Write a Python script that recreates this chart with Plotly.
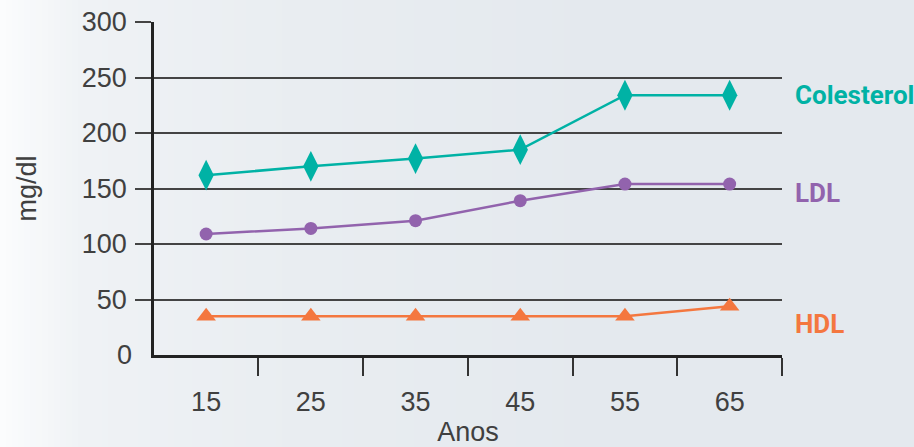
import plotly.graph_objects as go

idades = [15, 25, 35, 45, 55, 65]
colesterol = [162, 170, 177, 185, 234, 234]
ldl = [109, 114, 121, 139, 154, 154]
hdl = [35, 35, 35, 35, 35, 44]

TEAL = "#00b2a5"
PURPLE = "#9263ad"
ORANGE = "#f4773f"

W, H = 914, 447
L, R, T, B = 154, 132, 22, 92
PW = W - L - R


def lerp(c1, c2, t):
    a = [int(c1[i:i + 2], 16) for i in (1, 3, 5)]
    b = [int(c2[i:i + 2], 16) for i in (1, 3, 5)]
    return "rgb(%d,%d,%d)" % tuple(round(a[k] + (b[k] - a[k]) * t) for k in range(3))


fig = go.Figure()

series = [
    ("Colesterol", colesterol, TEAL, "diamond-tall", 22),
    ("LDL", ldl, PURPLE, "circle", 13),
    ("HDL", hdl, ORANGE, "triangle-up", 17),
]
for name, vals, col, sym, size in series:
    fig.add_trace(go.Scatter(
        x=idades, y=vals, name=name, mode="lines+markers",
        line=dict(color=col, width=2.5),
        marker=dict(color=col, symbol=sym, size=size, line=dict(width=0)),
        cliponaxis=False, showlegend=False,
    ))

# background gradient (left side lighter)
shapes = []
stops = [(0, "#fbfcfd"), (80, "#eff2f5"), (300, "#e9edf1"), (600, "#e4e9ee")]
step = 6
for px in range(0, 600, step):
    for (p0, c0), (p1, c1) in zip(stops, stops[1:]):
        if p0 <= px < p1:
            col = lerp(c0, c1, (px - p0) / (p1 - p0))
    shapes.append(dict(
        type="rect", xref="paper", yref="paper", layer="below",
        x0=(px - L) / PW, x1=(px + step + 1 - L) / PW,
        y0=-B / (H - T - B), y1=1 + T / (H - T - B),
        fillcolor=col, line=dict(width=0),
    ))

tick_font = dict(family="Liberation Sans, Arial, sans-serif", size=27, color="#404040")
label_font = "Roboto, Liberation Sans, sans-serif"

annotations = [
    dict(text="0", x=0, xref="paper", y=0, yref="y", xanchor="right",
         xshift=-20, showarrow=False, font=tick_font),
]
for name, ypos, col in [("Colesterol", 234, TEAL), ("LDL", 146, PURPLE), ("HDL", 28, ORANGE)]:
    annotations.append(dict(
        text="<b>%s</b>" % name, x=1, xref="paper", y=ypos, yref="y",
        xanchor="left", xshift=11, showarrow=False,
        font=dict(family=label_font, size=26, color=col),
    ))

fig.update_layout(
    width=W, height=H,
    margin=dict(l=L, r=R, t=T, b=B),
    paper_bgcolor="#e4e9ee",
    plot_bgcolor="rgba(0,0,0,0)",
    shapes=shapes,
    annotations=annotations,
    xaxis=dict(
        range=[10.02, 70], tickvals=idades, ticktext=[str(v) for v in idades],
        ticks="", showgrid=False, zeroline=False, automargin=False,
        showline=True, linecolor="#222222", linewidth=2.5,
        tickfont=tick_font, ticklabelstandoff=21,
        minor=dict(ticks="outside", tickmode="linear", tick0=20, dtick=10,
                   ticklen=18, tickcolor="#333333", tickwidth=1.5, showgrid=False),
        title=dict(text="Anos", font=tick_font, standoff=10),
    ),
    yaxis=dict(
        range=[0, 300], tickvals=[50, 100, 150, 200, 250, 300],
        ticks="outside", ticklen=16, tickcolor="#444444", tickwidth=1.5,
        showgrid=True, gridcolor="#444444", gridwidth=1.5, zeroline=False,
        automargin=False,
        showline=True, linecolor="#222222", linewidth=2.5,
        tickfont=tick_font, ticklabelstandoff=3,
        title=dict(text="mg/dl", font=tick_font, standoff=38),
    ),
)

fig.write_html(
    "out.html",
    config={"displayModeBar": False},
    post_script="document.body.style.margin='0';document.body.style.overflow='hidden';",
)
